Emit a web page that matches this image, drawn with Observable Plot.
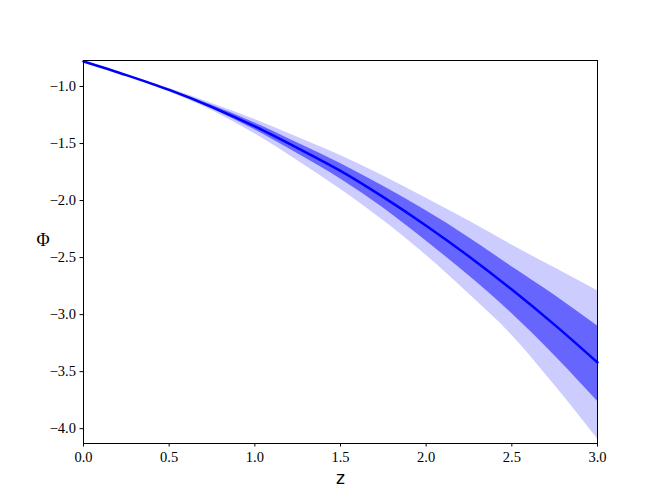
<!DOCTYPE html>
<html>
<head>
<meta charset="utf-8">
<script src="https://cdn.jsdelivr.net/npm/d3@7"></script>
<script src="https://cdn.jsdelivr.net/npm/@observablehq/plot@0.6"></script>
<style>
  html, body { margin: 0; padding: 0; background: #fff; }
</style>
</head>
<body>
<div id="chart"></div>
<script>
const z       = [0, 0.25, 0.5, 0.75, 1.0, 1.25, 1.5, 1.75, 2.0, 2.25, 2.5, 2.75, 3.0];
const phi     = [-0.78, -0.90, -1.03, -1.18, -1.35, -1.54, -1.74, -1.97, -2.22, -2.49, -2.78, -3.09, -3.42];
const innerHi = [-0.78, -0.898, -1.025, -1.165, -1.32, -1.495, -1.675, -1.875, -2.09, -2.325, -2.58, -2.83, -3.10];
const innerLo = [-0.78, -0.902, -1.035, -1.195, -1.38, -1.59, -1.81, -2.065, -2.355, -2.66, -2.99, -3.36, -3.76];
const outerHi = [-0.78, -0.896, -1.015, -1.15, -1.29, -1.445, -1.605, -1.785, -1.98, -2.18, -2.39, -2.59, -2.79];
const outerLo = [-0.78, -0.904, -1.045, -1.21, -1.415, -1.65, -1.90, -2.175, -2.48, -2.82, -3.18, -3.62, -4.09];
const xTicks  = [0, 0.5, 1.0, 1.5, 2.0, 2.5, 3.0];
const yTicks  = [-4.0, -3.5, -3.0, -2.5, -2.0, -1.5, -1.0];

const data = z.map((v, i) => ({z: v, phi: phi[i], iLo: innerLo[i], iHi: innerHi[i], oLo: outerLo[i], oHi: outerHi[i]}));
const fmt = d => d3.format(".1f")(d).replace("-", "\u2212");

const chart = Plot.plot({
  width: 664,
  height: 498,
  marginLeft: 83,
  marginRight: 67,
  marginTop: 60,
  marginBottom: 55,
  style: {fontFamily: "Liberation Serif, serif", fontSize: "14.5px", color: "#000", background: "#fff"},
  x: {domain: [0, 3]},
  y: {domain: [-4.13, -0.772]},
  marks: [
    Plot.areaY(data, {x: "z", y1: "oLo", y2: "oHi", fill: "#ccccff", curve: "monotone-x"}),
    Plot.areaY(data, {x: "z", y1: "iLo", y2: "iHi", fill: "#6666ff", curve: "monotone-x"}),
    Plot.line(data, {x: "z", y: "phi", stroke: "#0000ff", strokeWidth: 2.5, curve: "monotone-x"}),
    Plot.axisX(xTicks, {tickSize: 3.5, tickPadding: 5, tickFormat: fmt, label: null, stroke: "#000", fill: "#000", fontSize: "14.5px", fontFamily: "Liberation Serif, serif"}),
    Plot.axisY(yTicks, {tickSize: 3.5, tickPadding: 4, tickFormat: fmt, label: null, stroke: "#000", fill: "#000", fontSize: "14.5px", fontFamily: "Liberation Serif, serif"}),
    Plot.frame({stroke: "#000", strokeWidth: 1}),
    Plot.text(["\u03A6"], {frameAnchor: "left", dx: -47, dy: -12, fontSize: 18, fontFamily: "Liberation Serif, serif"}),
    Plot.text(["z"], {frameAnchor: "bottom", dy: 40, fontSize: 17, fontFamily: "DejaVu Sans, sans-serif"})
  ]
});
document.getElementById("chart").appendChild(chart);
</script>
</body>
</html>
